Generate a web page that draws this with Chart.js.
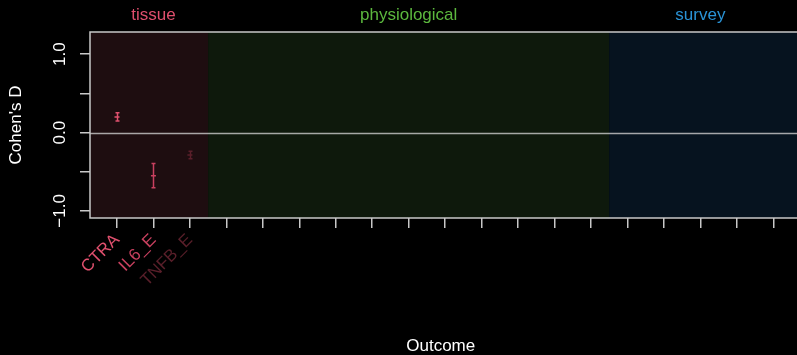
<!DOCTYPE html>
<html lang="en">
<head>
<meta charset="UTF-8">
<title>Cohen's D by outcome</title>
<script src="https://cdn.jsdelivr.net/npm/chart.js"></script>
<style>
    html, body { margin: 0; padding: 0; background: #000; overflow: hidden; }
    canvas { display: block; }
</style>
</head>
<body>
<canvas id="effects" width="797" height="355"></canvas>
<script>
    // outcomes along the x axis (only the tissue ones are labelled)
    const outcomes = ['CTRA', 'IL6_E', 'TNFB_E', '', '', '', '', '', '', '', '', '', '', '', '', '', '', '', '']
    const labelColors = ['#e0506e', '#c8405f', '#5a1f2a']

    // Cohen's D with interval
    const effect = [0.20, -0.55, -0.285]
    const lower = [0.148, -0.704, -0.335]
    const upper = [0.254, -0.394, -0.238]

    // outcome groups: first and last index in each
    const groups = ['tissue', 'physiological', 'survey']
    const groupFirst = [0, 3, 14]
    const groupLast = [2, 13, 18]
    const groupText = ['#df4f6d', '#5cb83e', '#2a93d6']
    const groupFill = ['#1e0d10', '#0e190c', '#06131f']

    const yTicks = [-1, -0.5, 0, 0.5, 1]
    const yLabelled = [-1, 0, 1]

    const FONT = '"Liberation Sans", Arial, sans-serif'
    const SIZE = 17

    const decor = {
        id: 'decor',
        beforeDatasetsDraw(chart) {
            const {ctx, chartArea: a, scales: {x, y}} = chart
            ctx.save()
            // group backgrounds, outer groups run to the plot edges
            groups.forEach((g, i) => {
                const l = i === 0 ? a.left : x.getPixelForValue(groupFirst[i] - 0.5)
                const r = i === groups.length - 1 ? chart.width : x.getPixelForValue(groupLast[i] + 0.5)
                ctx.fillStyle = groupFill[i]
                ctx.fillRect(l, a.top, r - l, a.bottom - a.top)
                ctx.fillStyle = groupText[i]
                ctx.font = SIZE + 'px ' + FONT
                ctx.textAlign = 'center'
                ctx.textBaseline = 'middle'
                ctx.fillText(g, x.getPixelForValue((groupFirst[i] + groupLast[i]) / 2), 15)
            })
            // zero line
            const y0 = Math.round(y.getPixelForValue(0)) + 0.5
            ctx.strokeStyle = 'rgba(205,205,205,0.8)'
            ctx.lineWidth = 1.5
            ctx.beginPath()
            ctx.moveTo(a.left, y0)
            ctx.lineTo(chart.width, y0)
            ctx.stroke()
            // error bars
            effect.forEach((v, i) => {
                const px = Math.round(x.getPixelForValue(i)) + 0.5
                const lo = y.getPixelForValue(lower[i])
                const hi = y.getPixelForValue(upper[i])
                ctx.strokeStyle = labelColors[i]
                ctx.lineWidth = 1.5
                ctx.beginPath()
                ctx.moveTo(px, lo); ctx.lineTo(px, hi)
                ctx.moveTo(px - 2, lo); ctx.lineTo(px + 2, lo)
                ctx.moveTo(px - 2, hi); ctx.lineTo(px + 2, hi)
                ctx.stroke()
            })
            ctx.restore()
        },
        afterDraw(chart) {
            const {ctx, chartArea: a, scales: {y}} = chart
            ctx.save()
            // frame (right side runs off the canvas, as in the original)
            ctx.strokeStyle = '#c8c8c8'
            ctx.lineWidth = 1.5
            ctx.beginPath()
            ctx.moveTo(chart.width + 5, a.top)
            ctx.lineTo(a.left, a.top)
            ctx.lineTo(a.left, a.bottom)
            ctx.lineTo(chart.width + 5, a.bottom)
            ctx.stroke()
            // y tick labels, rotated as in base R
            ctx.fillStyle = '#ffffff'
            ctx.font = SIZE + 'px ' + FONT
            ctx.textAlign = 'center'
            ctx.textBaseline = 'middle'
            yLabelled.forEach(v => {
                ctx.save()
                ctx.translate(60, y.getPixelForValue(v))
                ctx.rotate(-Math.PI / 2)
                ctx.fillText(v < 0 ? '\u2212' + Math.abs(v).toFixed(1) : v.toFixed(1), 0, 0)
                ctx.restore()
            })
            ctx.restore()
        }
    }

    new Chart(document.getElementById('effects'), {
        type: 'scatter',
        data: {
            datasets: [{
                data: effect.map((v, i) => ({x: i, y: v})),
                pointStyle: 'line',
                radius: 2.5,
                borderWidth: 1.5,
                borderColor: labelColors,
                backgroundColor: labelColors
            }]
        },
        options: {
            animation: false,
            responsive: false,
            devicePixelRatio: 1,
            layout: {padding: {top: 32, left: 0, right: 0, bottom: 0}},
            plugins: {legend: {display: false}, tooltip: {enabled: false}},
            scales: {
                x: {
                    type: 'linear',
                    min: -0.74,
                    max: 18.5,
                    afterBuildTicks: s => { s.ticks = outcomes.map((o, i) => ({value: i})) },
                    afterFit: s => { s.height = 137; s.paddingLeft = 0; s.paddingRight = 0 },
                    border: {display: false},
                    grid: {drawOnChartArea: false, tickLength: 10, color: '#c8c8c8', lineWidth: 1.5},
                    ticks: {
                        autoSkip: false,
                        minRotation: 45,
                        maxRotation: 45,
                        padding: 2,
                        font: {family: FONT, size: SIZE},
                        color: c => labelColors[c.index] || '#000',
                        callback: (v, i) => outcomes[i]
                    },
                    title: {
                        display: true,
                        text: 'Outcome',
                        color: '#ffffff',
                        font: {family: FONT, size: SIZE},
                        padding: {top: 0, bottom: -2}
                    }
                },
                y: {
                    min: -1.09,
                    max: 1.283,
                    afterBuildTicks: s => { s.ticks = yTicks.map(v => ({value: v})) },
                    afterFit: s => { s.width = 90; s.paddingTop = 0; s.paddingBottom = 0 },
                    border: {display: false},
                    grid: {drawOnChartArea: false, tickLength: 10, color: '#c8c8c8', lineWidth: 1.5},
                    ticks: {display: false},
                    title: {
                        display: true,
                        text: "Cohen's D",
                        color: '#ffffff',
                        font: {family: FONT, size: SIZE},
                        padding: {top: 6, bottom: 0}
                    }
                }
            }
        },
        plugins: [decor]
    })
</script>
</body>
</html>
